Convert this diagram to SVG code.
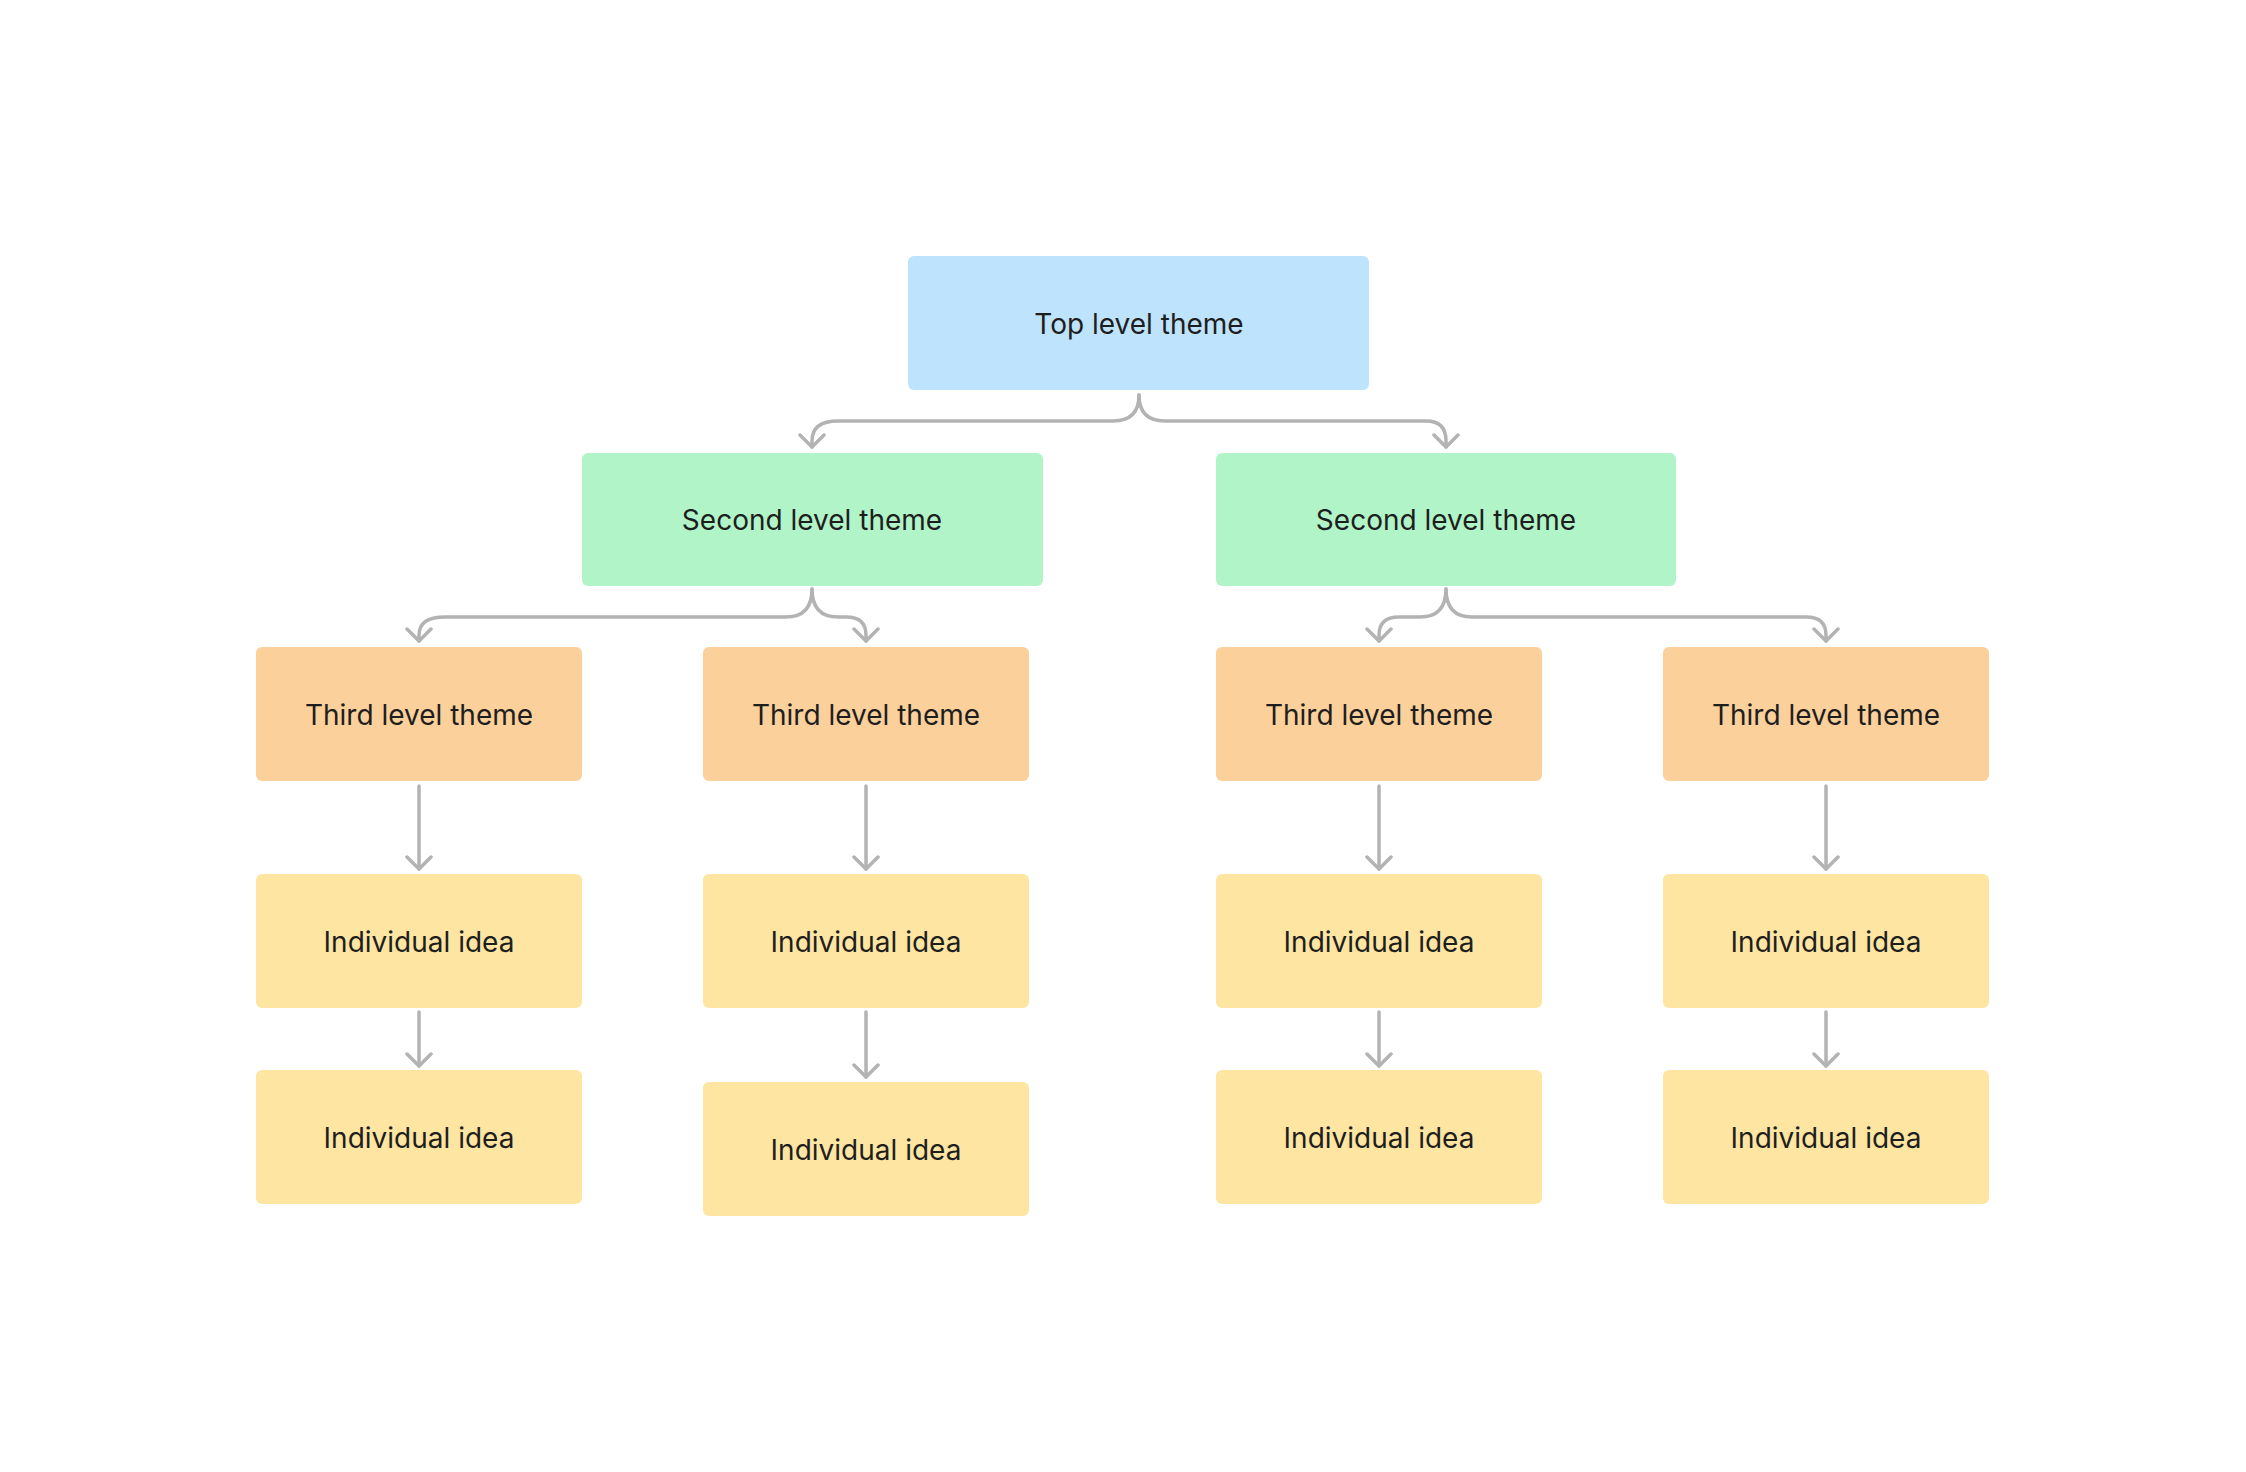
<svg xmlns="http://www.w3.org/2000/svg" width="2246" height="1472" viewBox="0 0 2246 1472">
<style>
text{font-family:Inter,"Liberation Sans",sans-serif;font-size:28px;fill:#1e1e1e;text-anchor:middle;dominant-baseline:central}
.c{fill:none;stroke:#b3b3b3;stroke-width:3.5;stroke-linecap:round;stroke-linejoin:round}
.t{fill:#bee3fc}.s{fill:#b0f4c8}.h{fill:#fbd09b}.i{fill:#fee5a2}
</style>
<defs><marker id="a" viewBox="0 0 20 20" refX="10" refY="18" markerWidth="20" markerHeight="20" markerUnits="userSpaceOnUse" orient="auto-start-reverse"><path d="M1 9 L10 18 L19 9" fill="none" stroke="#b3b3b3" stroke-width="3.5" stroke-linecap="round" stroke-linejoin="round" transform="rotate(-90 10 18) rotate(90 10 18)"/></marker></defs>
<rect width="2246" height="1472" fill="#fff"/>
<g id="connectors">
<path class="c" d="M1139 395 Q1139 421 1113 421 H838 Q812 421 812 441 V447"/>
<path class="c" d="M1139 395 Q1139 421 1165 421 H1426 Q1446 421 1446 441 V447"/>
<path class="c" d="M812 589 Q812 617 786 617 H445 Q419 617 419 635 V641"/>
<path class="c" d="M812 589 Q812 617 838 617 H846 Q866 617 866 635 V641"/>
<path class="c" d="M1446 589 Q1446 617 1420 617 H1399 Q1379 617 1379 635 V641"/>
<path class="c" d="M1446 589 Q1446 617 1472 617 H1806 Q1826 617 1826 635 V641"/>
<path class="c" d="M419 786 V869 M866 786 V869 M1379 786 V869 M1826 786 V869 M419 1012 V1066 M866 1012 V1077 M1379 1012 V1066 M1826 1012 V1066"/>
<path class="c" d="M805 433 L812 447 L819 433 M1432 433 L1446 447 M1460 433 L1446 447" style="display:none"/>
<path class="c" d="M800 435 L812 447 L824 435 M1434 435 L1446 447 L1458 435 M407 629 L419 641 L431 629 M854 629 L866 641 L878 629 M1367 629 L1379 641 L1391 629 M1814 629 L1826 641 L1838 629 M407 857 L419 869 L431 857 M854 857 L866 869 L878 857 M1367 857 L1379 869 L1391 857 M1814 857 L1826 869 L1838 857 M407 1054 L419 1066 L431 1054 M854 1065 L866 1077 L878 1065 M1367 1054 L1379 1066 L1391 1054 M1814 1054 L1826 1066 L1838 1054"/>
</g>
<g id="top"><rect class="t" x="908" y="256" width="461" height="134" rx="6"/><text x="1139" y="324">Top level theme</text></g>
<g id="second1"><rect class="s" x="582" y="453" width="461" height="133" rx="6"/><text x="812" y="520">Second level theme</text></g>
<g id="second2"><rect class="s" x="1216" y="453" width="460" height="133" rx="6"/><text x="1446" y="520">Second level theme</text></g>
<g id="third1"><rect class="h" x="256" y="647" width="326" height="134" rx="6"/><text x="419" y="715">Third level theme</text></g>
<g id="third2"><rect class="h" x="703" y="647" width="326" height="134" rx="6"/><text x="866" y="715">Third level theme</text></g>
<g id="third3"><rect class="h" x="1216" y="647" width="326" height="134" rx="6"/><text x="1379" y="715">Third level theme</text></g>
<g id="third4"><rect class="h" x="1663" y="647" width="326" height="134" rx="6"/><text x="1826" y="715">Third level theme</text></g>
<g id="idea1a"><rect class="i" x="256" y="874" width="326" height="134" rx="6"/><text x="419" y="942">Individual idea</text></g>
<g id="idea2a"><rect class="i" x="703" y="874" width="326" height="134" rx="6"/><text x="866" y="942">Individual idea</text></g>
<g id="idea3a"><rect class="i" x="1216" y="874" width="326" height="134" rx="6"/><text x="1379" y="942">Individual idea</text></g>
<g id="idea4a"><rect class="i" x="1663" y="874" width="326" height="134" rx="6"/><text x="1826" y="942">Individual idea</text></g>
<g id="idea1b"><rect class="i" x="256" y="1070" width="326" height="134" rx="6"/><text x="419" y="1138">Individual idea</text></g>
<g id="idea2b"><rect class="i" x="703" y="1082" width="326" height="134" rx="6"/><text x="866" y="1150">Individual idea</text></g>
<g id="idea3b"><rect class="i" x="1216" y="1070" width="326" height="134" rx="6"/><text x="1379" y="1138">Individual idea</text></g>
<g id="idea4b"><rect class="i" x="1663" y="1070" width="326" height="134" rx="6"/><text x="1826" y="1138">Individual idea</text></g>
</svg>
